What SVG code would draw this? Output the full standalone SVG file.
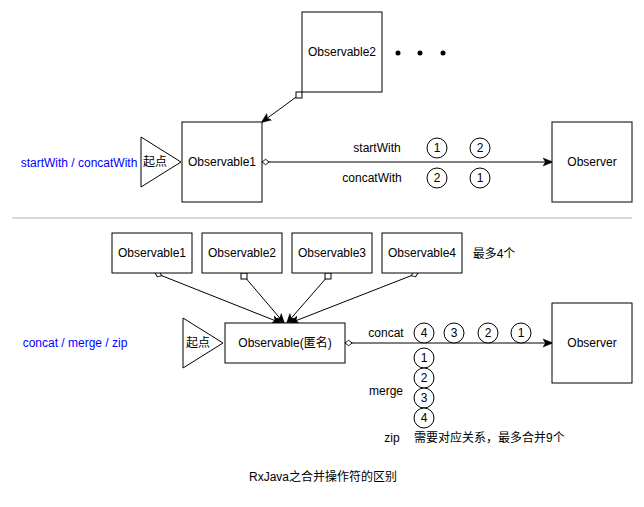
<svg xmlns="http://www.w3.org/2000/svg" width="644" height="507" viewBox="0 0 644 507">
<style>
text{font-family:"Liberation Sans",Arial,"Noto Sans CJK SC",sans-serif;font-size:12px;fill:#000;text-anchor:middle;dominant-baseline:central}
.box{fill:#fff;stroke:#000;stroke-width:1}
.c{fill:#fff;stroke:#000;stroke-width:1}
.ln{fill:none;stroke:#000;stroke-width:1}
.blue{fill:#0000ff}
.l{text-anchor:start}
</style>
<defs>
<marker id="arr" viewBox="0 0 10 10" refX="9" refY="5" markerWidth="10" markerHeight="10" markerUnits="userSpaceOnUse" orient="auto">
<path d="M0,1 L10,5 L0,9 L2.5,5 Z" fill="#000" stroke="#000" stroke-width="0.5"/>
</marker>
<marker id="dia" viewBox="0 0 10 10" refX="1" refY="5" markerWidth="9" markerHeight="9" markerUnits="userSpaceOnUse" orient="auto">
<path d="M1,5 L5,2 L9,5 L5,8 Z" fill="#fff" stroke="#000" stroke-width="1"/>
</marker>
<marker id="sq" viewBox="0 0 8 8" refX="4" refY="4" markerWidth="8" markerHeight="8" markerUnits="userSpaceOnUse" orient="0">
<rect x="1" y="1" width="6" height="6" fill="#fff" stroke="#000" stroke-width="1"/>
</marker>
</defs>
<rect width="644" height="507" fill="#fff"/>

<g id="connectors">
<line class="ln" x1="299" y1="95" x2="262" y2="122" marker-start="url(#sq)" marker-end="url(#arr)"/>
<line class="ln" x1="262" y1="162" x2="552" y2="162" marker-start="url(#dia)" marker-end="url(#arr)"/>
<line class="ln" x1="155" y1="273" x2="281" y2="323" marker-start="url(#dia)" marker-end="url(#arr)"/>
<line class="ln" x1="244" y1="276" x2="284" y2="323" marker-start="url(#sq)" marker-end="url(#arr)"/>
<line class="ln" x1="328" y1="276" x2="287" y2="323" marker-start="url(#sq)" marker-end="url(#arr)"/>
<line class="ln" x1="418" y1="273" x2="290" y2="323" marker-start="url(#dia)" marker-end="url(#arr)"/>
<line class="ln" x1="345" y1="343" x2="552" y2="343" marker-start="url(#dia)" marker-end="url(#arr)"/>
</g>

<g id="observable2"><rect class="box" x="302" y="12" width="80" height="80"/><text x="342" y="52">Observable2</text></g>
<g id="dots"><circle cx="398" cy="53" r="2.5"/><circle cx="420" cy="53" r="2.5"/><circle cx="443" cy="53" r="2.5"/></g>
<g id="start1"><path class="box" d="M141,137 L181,162 L141,187 Z"/><text x="155" y="162">起点</text></g>
<g id="observable1"><rect class="box" x="182" y="122" width="80" height="80"/><text x="222" y="162">Observable1</text></g>
<g id="observer1"><rect class="box" x="552" y="122" width="80" height="80"/><text x="592" y="162">Observer</text></g>
<g id="label1"><text class="blue" x="79" y="163">startWith / concatWith</text></g>
<g id="seq1">
<text x="377" y="148">startWith</text>
<circle class="c" cx="437" cy="148" r="10"/><text x="437" y="148">1</text>
<circle class="c" cx="480" cy="148" r="10"/><text x="480" y="148">2</text>
<text x="372" y="178">concatWith</text>
<circle class="c" cx="437" cy="178" r="10"/><text x="437" y="178">2</text>
<circle class="c" cx="480" cy="178" r="10"/><text x="480" y="178">1</text>
</g>

<line x1="12" y1="218" x2="632" y2="218" stroke="#b3b3b3" stroke-width="1"/>

<g id="b-obs1"><rect class="box" x="112" y="233" width="80" height="40"/><text x="152" y="253">Observable1</text></g>
<g id="b-obs2"><rect class="box" x="202" y="233" width="80" height="40"/><text x="242" y="253">Observable2</text></g>
<g id="b-obs3"><rect class="box" x="292" y="233" width="80" height="40"/><text x="332" y="253">Observable3</text></g>
<g id="b-obs4"><rect class="box" x="382" y="233" width="80" height="40"/><text x="422" y="253">Observable4</text></g>
<g id="max4"><text x="494" y="254">最多4个</text></g>
<g id="start2"><path class="box" d="M183,318 L223,343 L183,368 Z"/><text x="198" y="343">起点</text></g>
<g id="anon"><rect class="box" x="225" y="323" width="120" height="40"/><text x="285" y="343">Observable(匿名)</text></g>
<g id="observer2"><rect class="box" x="552" y="303" width="80" height="80"/><text x="592" y="343">Observer</text></g>
<g id="label2"><text class="blue" x="75" y="343">concat / merge / zip</text></g>
<g id="seq2">
<text x="386" y="333">concat</text>
<circle class="c" cx="424" cy="333" r="10"/><text x="424" y="333">4</text>
<circle class="c" cx="454" cy="333" r="10"/><text x="454" y="333">3</text>
<circle class="c" cx="488" cy="333" r="10"/><text x="488" y="333">2</text>
<circle class="c" cx="521" cy="333" r="10"/><text x="521" y="333">1</text>
<circle class="c" cx="424" cy="358" r="10"/><text x="424" y="358">1</text>
<circle class="c" cx="424" cy="378" r="10"/><text x="424" y="378">2</text>
<circle class="c" cx="424" cy="398" r="10"/><text x="424" y="398">3</text>
<circle class="c" cx="424" cy="418" r="10"/><text x="424" y="418">4</text>
<text x="386" y="391">merge</text>
<text x="392" y="438">zip</text>
<text class="l" x="414" y="438">需要对应关系，最多合并9个</text>
</g>
<g id="title"><text x="323" y="477">RxJava之合并操作符的区别</text></g>
</svg>
